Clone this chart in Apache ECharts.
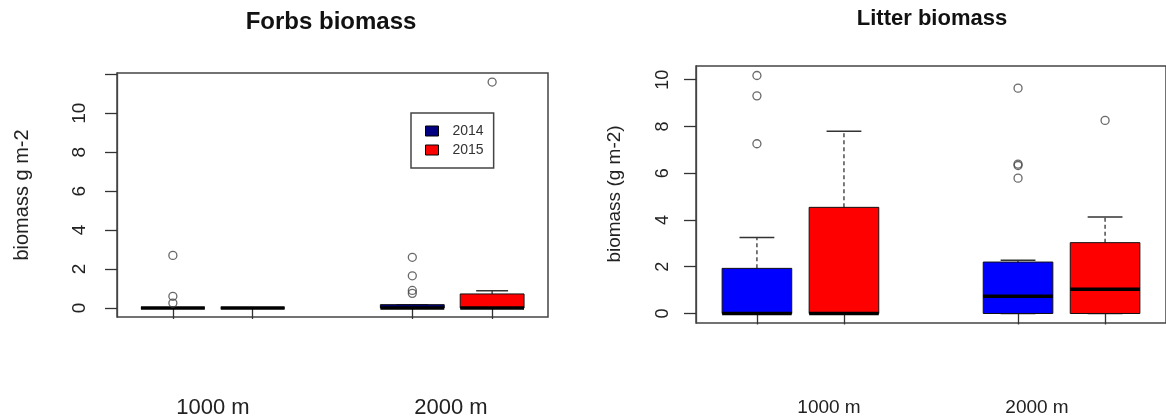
<!DOCTYPE html>
<html>
<head>
<meta charset="utf-8">
<script src="https://cdn.jsdelivr.net/npm/echarts@6.0.0/dist/echarts.min.js"></script>
<style>
html,body{margin:0;padding:0;background:#fff;}
#chart{width:1166px;height:419px;}
</style>
</head>
<body>
<div id="chart"></div>
<script>
// ---- data ----
const positions = [1, 2, 4, 5];
const years = ['2014', '2015', '2014', '2015'];
const elevations = ['1000 m', '2000 m'];
const yTicksForbs = [0, 2, 4, 6, 8, 10, 12];
const yLabelsForbs = [0, 2, 4, 6, 8, 10];
const yTicksLitter = [0, 2, 4, 6, 8, 10];
// five-number summaries: [lower whisker, q1, median, q3, upper whisker]
const forbsStats = [
  [0, 0, 0, 0, 0],
  [0, 0, 0, 0, 0],
  [0, 0, 0, 0.17, 0.17],
  [0, 0, 0, 0.72, 0.88]
];
const forbsOutliers = [[2.7, 0.6, 0.25], [], [2.6, 1.65, 0.9, 0.75], [11.6]];
const litterStats = [
  [0, 0, 0, 1.93, 3.25],
  [0, 0, 0, 4.54, 7.8],
  [0, 0, 0.74, 2.2, 2.28],
  [0, 0, 1.04, 3.03, 4.13]
];
const litterOutliers = [[10.18, 9.31, 7.26], [], [9.64, 6.39, 6.33, 5.79], [8.26]];

// ---- styles ----
const BOXWEX = 0.8;
const STAPLE = 0.5;
const leftColors = { '2014': '#000080', '2015': '#FF0000' };
const rightColors = { '2014': '#0000FF', '2015': '#FF0000' };
const FONT = 'Liberation Sans, Arial, sans-serif';

function boxRender(params, api) {
  const x = api.value(0);
  const low = api.coord([x, api.value(1)]);
  const q1 = api.coord([x, api.value(2)]);
  const med = api.coord([x, api.value(3)]);
  const q3 = api.coord([x, api.value(4)]);
  const high = api.coord([x, api.value(5)]);
  const w = api.size([BOXWEX, 0])[0];
  const cap = w * STAPLE;
  const cx = q1[0];
  const color = api.visual('color');
  const whiskerStyle = { stroke: '#333', lineWidth: 1.3, lineDash: [4, 3] };
  const stapleStyle = { stroke: '#333', lineWidth: 1.5 };
  return {
    type: 'group',
    children: [
      { type: 'line', shape: { x1: cx, y1: q3[1], x2: cx, y2: high[1] }, style: whiskerStyle },
      { type: 'line', shape: { x1: cx, y1: q1[1], x2: cx, y2: low[1] }, style: whiskerStyle },
      { type: 'line', shape: { x1: cx - cap / 2, y1: high[1], x2: cx + cap / 2, y2: high[1] }, style: stapleStyle },
      { type: 'line', shape: { x1: cx - cap / 2, y1: low[1], x2: cx + cap / 2, y2: low[1] }, style: stapleStyle },
      { type: 'rect', shape: { x: cx - w / 2, y: q3[1], width: w, height: q1[1] - q3[1] },
        style: { fill: color, stroke: '#111', lineWidth: 1 } },
      { type: 'line', shape: { x1: cx - w / 2, y1: med[1], x2: cx + w / 2, y2: med[1] },
        style: { stroke: '#000', lineWidth: 3.5 } }
    ]
  };
}

function boxSeries(stats, year, gridIdx, colors) {
  const data = [];
  positions.forEach((p, i) => {
    if (years[i] === year) data.push([p].concat(stats[i]));
  });
  return {
    type: 'custom', name: year, xAxisIndex: gridIdx, yAxisIndex: gridIdx,
    renderItem: boxRender, itemStyle: { color: colors[year] },
    encode: { x: 0, y: [1, 2, 3, 4, 5] },
    data: data, z: 3
  };
}

function outlierSeries(outliers, gridIdx) {
  const data = [];
  positions.forEach((p, i) => outliers[i].forEach(v => data.push([p, v])));
  return {
    type: 'scatter', xAxisIndex: gridIdx, yAxisIndex: gridIdx,
    symbol: 'circle', symbolSize: 8,
    itemStyle: { color: 'rgba(0,0,0,0)', borderColor: '#444', borderWidth: 1.3 },
    data: data, z: 4
  };
}

function xAxis(gridIdx) {
  return {
    type: 'value', gridIndex: gridIdx, min: 0.3, max: 5.7,
    axisLine: { show: false },
    axisTick: { show: true, length: 11, customValues: positions, lineStyle: { color: '#333', width: 1.3 } },
    axisLabel: { show: false },
    splitLine: { show: false }
  };
}

function yAxis(gridIdx, min, max, ticks, labels, fontSize, margin) {
  return {
    type: 'value', gridIndex: gridIdx, min: min, max: max,
    axisLine: { show: true, lineStyle: { color: '#444', width: 1.3 } },
    axisTick: { show: true, length: 12, customValues: ticks, lineStyle: { color: '#333', width: 1.3 } },
    axisLabel: { show: true, customValues: labels, rotate: 90, margin: margin,
      fontFamily: FONT, fontSize: fontSize, color: '#222' },
    splitLine: { show: false }
  };
}

const chart = echarts.init(document.getElementById('chart'), null, { renderer: 'canvas' });
chart.setOption({
  animation: false,
  backgroundColor: '#fff',
  grid: [
    { left: 117, top: 73, right: 618, bottom: 102, show: true, borderColor: '#444', borderWidth: 1.5 },
    { left: 696, top: 66, right: -6, bottom: 96, show: true, borderColor: '#444', borderWidth: 1.5 }
  ],
  xAxis: [xAxis(0), xAxis(1)],
  yAxis: [
    yAxis(0, -0.464, 12.064, yTicksForbs, yLabelsForbs, 19, 28),
    yAxis(1, -0.407, 10.587, yTicksLitter, yTicksLitter, 18, 24)
  ],
  legend: {
    show: true, left: 411, top: 113, orient: 'vertical',
    data: [
      { name: '2014', itemStyle: { color: leftColors['2014'], borderColor: '#000', borderWidth: 1 } },
      { name: '2015', itemStyle: { color: leftColors['2015'], borderColor: '#000', borderWidth: 1 } }
    ],
    icon: 'rect', itemWidth: 13, itemHeight: 10, itemGap: 3,
    padding: [10, 10, 10, 14],
    borderColor: '#444', borderWidth: 1.5, backgroundColor: '#fff',
    selectedMode: false,
    textStyle: { fontFamily: FONT, fontSize: 14, color: '#333', lineHeight: 16, padding: [0, 0, 0, 9] }
  },
  series: [
    boxSeries(forbsStats, '2014', 0, leftColors),
    boxSeries(forbsStats, '2015', 0, leftColors),
    outlierSeries(forbsOutliers, 0),
    boxSeries(litterStats, '2014', 1, rightColors),
    boxSeries(litterStats, '2015', 1, rightColors),
    outlierSeries(litterOutliers, 1)
  ],
  graphic: [
    { type: 'text', x: 331, y: 22, style: { text: 'Forbs biomass', fontFamily: FONT, fontWeight: 'bold', fontSize: 24, fill: '#111', align: 'center', verticalAlign: 'middle' } },
    { type: 'text', x: 932, y: 19, style: { text: 'Litter biomass', fontFamily: FONT, fontWeight: 'bold', fontSize: 22, fill: '#111', align: 'center', verticalAlign: 'middle' } },
    { type: 'text', x: 22, y: 195, rotation: Math.PI / 2, style: { text: 'biomass g m-2', fontFamily: FONT, fontSize: 20, fill: '#222', align: 'center', verticalAlign: 'middle' } },
    { type: 'text', x: 615, y: 194, rotation: Math.PI / 2, style: { text: 'biomass (g m-2)', fontFamily: FONT, fontSize: 19, fill: '#222', align: 'center', verticalAlign: 'middle' } },
    { type: 'text', x: 213, y: 408, style: { text: elevations[0], fontFamily: FONT, fontSize: 22, fill: '#222', align: 'center', verticalAlign: 'middle' } },
    { type: 'text', x: 451, y: 408, style: { text: elevations[1], fontFamily: FONT, fontSize: 22, fill: '#222', align: 'center', verticalAlign: 'middle' } },
    { type: 'text', x: 829, y: 408, style: { text: elevations[0], fontFamily: FONT, fontSize: 19, fill: '#222', align: 'center', verticalAlign: 'middle' } },
    { type: 'text', x: 1037, y: 408, style: { text: elevations[1], fontFamily: FONT, fontSize: 19, fill: '#222', align: 'center', verticalAlign: 'middle' } }
  ]
});
</script>
</body>
</html>
